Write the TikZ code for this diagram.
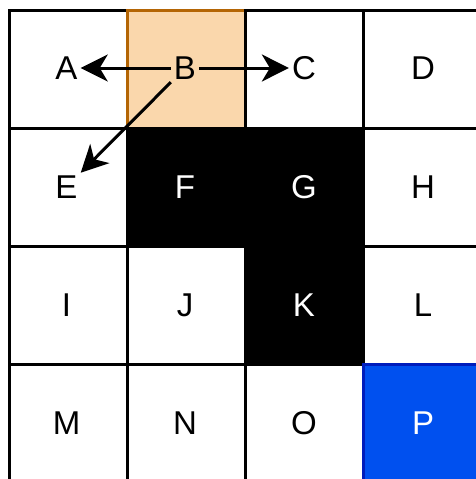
\documentclass[tikz,border=0pt]{standalone}
\usepackage{fontspec}
\setmainfont{Liberation Sans}
\usetikzlibrary{arrows.meta}
\definecolor{bfill}{HTML}{FAD7AC}
\definecolor{bdraw}{HTML}{B46504}
\definecolor{pfill}{HTML}{0050EF}
\definecolor{pdraw}{HTML}{001DBC}
\begin{document}
\begin{tikzpicture}[x=1pt,y=-1pt,
  cell/.style={draw=black, fill=white, line width=3pt, minimum size=118pt, inner sep=0pt},
  blk/.style={cell, fill=black},
  lbl/.style={font=\fontsize{33}{33}\selectfont, inner sep=3pt, text=black},
  wlbl/.style={lbl, text=white},
  arr/.style={line width=3pt, -{Stealth[length=27pt,width=27pt,inset=8pt]}}]
\useasboundingbox (0,0) rectangle (475,479);
% cells in row-major order
\node[cell] (cA) at (68.5,69.5) {};
\node[cell, fill=bfill, draw=bdraw] (cB) at (186.5,69.5) {};
\node[cell] (cC) at (304.5,69.5) {};
\node[cell] (cD) at (422.5,69.5) {};
\node[cell] (cE) at (68.5,187.5) {};
\node[blk] (cF) at (186.5,187.5) {};
\node[blk] (cG) at (304.5,187.5) {};
\node[cell] (cH) at (422.5,187.5) {};
\node[cell] (cI) at (68.5,305.5) {};
\node[cell] (cJ) at (186.5,305.5) {};
\node[blk] (cK) at (304.5,305.5) {};
\node[cell] (cL) at (422.5,305.5) {};
\node[cell] (cM) at (68.5,423.5) {};
\node[cell] (cN) at (186.5,423.5) {};
\node[cell] (cO) at (304.5,423.5) {};
\node[cell, fill=pfill, draw=pdraw] (cP) at (422.5,423.5) {};
% labels
\node[lbl] (A) at (66.5,68) {A};
\node[lbl] (B) at (185,68) {B};
\node[lbl] (C) at (304,68) {C};
\node[lbl] (D) at (423,68) {D};
\node[lbl] (E) at (66.5,187) {E};
\node[wlbl] (F) at (185,187) {F};
\node[wlbl] (G) at (304,187) {G};
\node[lbl] (H) at (423,187) {H};
\node[lbl] (I) at (66.5,305) {I};
\node[lbl] (J) at (185,305) {J};
\node[wlbl] (K) at (304,305) {K};
\node[lbl] (L) at (423,305) {L};
\node[lbl] (M) at (66.5,423) {M};
\node[lbl] (N) at (185,423) {N};
\node[lbl] (O) at (304,423) {O};
\node[wlbl] (P) at (423,423) {P};
% arrows
\draw[arr] (B) -- (A);
\draw[arr] (B) -- (C);
\draw[arr] (B) -- (E);
\end{tikzpicture}
\end{document}
